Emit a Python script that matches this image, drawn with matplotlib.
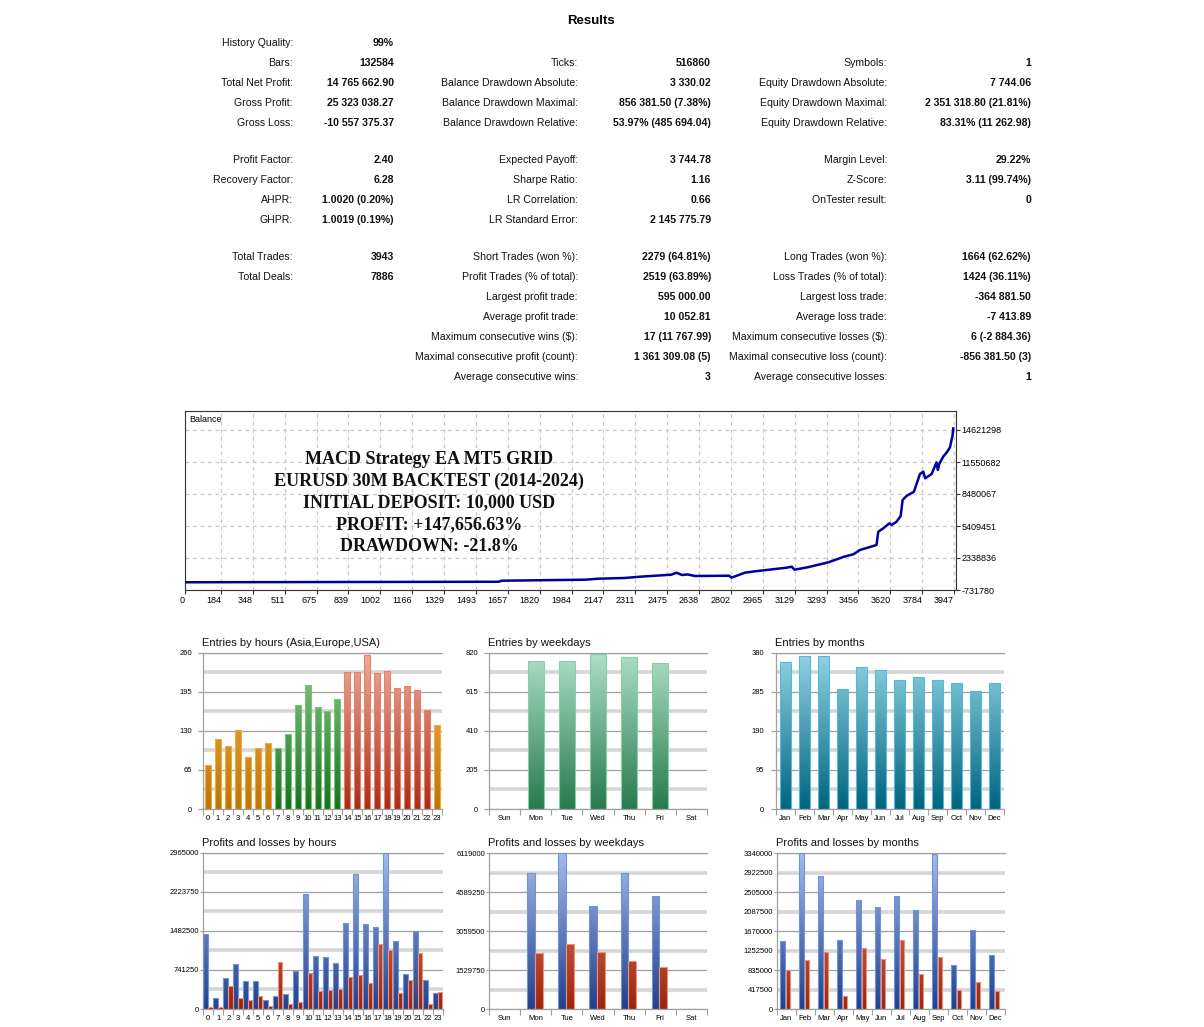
import numpy as np
import matplotlib.pyplot as plt
from matplotlib.colors import LinearSegmentedColormap

plt.rcParams['font.family'] = ['Liberation Sans', 'DejaVu Sans']

# ---------------- data ----------------
stats_blocks = [
    [
        [("History Quality:", "99%"), None, None],
        [("Bars:", "132584"), ("Ticks:", "516860"), ("Symbols:", "1")],
        [("Total Net Profit:", "14 765 662.90"), ("Balance Drawdown Absolute:", "3 330.02"),
         ("Equity Drawdown Absolute:", "7 744.06")],
        [("Gross Profit:", "25 323 038.27"), ("Balance Drawdown Maximal:", "856 381.50 (7.38%)"),
         ("Equity Drawdown Maximal:", "2 351 318.80 (21.81%)")],
        [("Gross Loss:", "-10 557 375.37"), ("Balance Drawdown Relative:", "53.97% (485 694.04)"),
         ("Equity Drawdown Relative:", "83.31% (11 262.98)")],
    ],
    [
        [("Profit Factor:", "2.40"), ("Expected Payoff:", "3 744.78"), ("Margin Level:", "29.22%")],
        [("Recovery Factor:", "6.28"), ("Sharpe Ratio:", "1.16"), ("Z-Score:", "3.11 (99.74%)")],
        [("AHPR:", "1.0020 (0.20%)"), ("LR Correlation:", "0.66"), ("OnTester result:", "0")],
        [("GHPR:", "1.0019 (0.19%)"), ("LR Standard Error:", "2 145 775.79"), None],
    ],
    [
        [("Total Trades:", "3943"), ("Short Trades (won %):", "2279 (64.81%)"),
         ("Long Trades (won %):", "1664 (62.62%)")],
        [("Total Deals:", "7886"), ("Profit Trades (% of total):", "2519 (63.89%)"),
         ("Loss Trades (% of total):", "1424 (36.11%)")],
        [None, ("Largest profit trade:", "595 000.00"), ("Largest loss trade:", "-364 881.50")],
        [None, ("Average profit trade:", "10 052.81"), ("Average loss trade:", "-7 413.89")],
        [None, ("Maximum consecutive wins ($):", "17 (11 767.99)"),
         ("Maximum consecutive losses ($):", "6 (-2 884.36)")],
        [None, ("Maximal consecutive profit (count):", "1 361 309.08 (5)"),
         ("Maximal consecutive loss (count):", "-856 381.50 (3)")],
        [None, ("Average consecutive wins:", "3"), ("Average consecutive losses:", "1")],
    ],
]

balance_trades = [0, 1610, 1625, 2055, 2121, 2255, 2336, 2496, 2523, 2550, 2580, 2617, 2792, 2805,
                  2873, 2926, 3087, 3114, 3128, 3195, 3302, 3383, 3430, 3464, 3549, 3558, 3584,
                  3615, 3627, 3652, 3673, 3683, 3703, 3741, 3751, 3772, 3789, 3799, 3832, 3857,
                  3864, 3871, 3891, 3912, 3926, 3936, 3939, 3941, 3943]
balance_values = [10000, 60000, 160000, 257000, 353000, 420000, 545000, 737000, 929000, 708000,
                  760000, 612000, 640000, 450000, 929000, 1062000, 1408000, 1504000, 1216000,
                  1446000, 1926000, 2463000, 2693000, 3107000, 3587000, 4863000, 5189000,
                  5669000, 5506000, 5826000, 6369000, 7904000, 8288000, 8700000, 9248000,
                  10399000, 10623000, 9986000, 10399000, 11522000, 10783000, 11359000,
                  12057000, 12538000, 12960000, 13825000, 14046000, 14460000, 14775663]
balance_xticks = [0, 184, 348, 511, 675, 839, 1002, 1166, 1329, 1493, 1657, 1820, 1984, 2147,
                  2311, 2475, 2638, 2802, 2965, 3129, 3293, 3456, 3620, 3784, 3947]
balance_yticks = [-731780, 2338836, 5409451, 8480067, 11550682, 14621298]
balance_note = ("MACD Strategy EA MT5 GRID\nEURUSD 30M BACKTEST (2014-2024)\n"
                "INITIAL DEPOSIT: 10,000 USD\nPROFIT: +147,656.63%\nDRAWDOWN: -21.8%")

hours = [str(h) for h in range(24)]
weekdays = ["Sun", "Mon", "Tue", "Wed", "Thu", "Fri", "Sat"]
months = ["Jan", "Feb", "Mar", "Apr", "May", "Jun", "Jul", "Aug", "Sep", "Oct", "Nov", "Dec"]

hour_session = ["asia"] * 7 + ["europe"] * 7 + ["usa"] * 9 + ["asia"]
entries_hours = [74, 117, 104, 132, 86, 101, 109, 101, 125, 173, 206, 170, 163, 183,
                 228, 228, 256, 226, 229, 202, 205, 198, 165, 140]
entries_weekdays = [0, 778, 774, 813, 795, 767, 0]
entries_months = [357, 371, 373, 292, 345, 339, 313, 321, 313, 307, 286, 306]

profit_hours = [1416000, 209000, 588000, 847000, 537000, 537000, 164000, 253000, 278000, 721000,
                2175000, 1005000, 980000, 866000, 1625000, 2560000, 1618000, 1562000, 2965000,
                1283000, 664000, 1473000, 556000, 297000]
loss_hours = [32000, 32000, 430000, 202000, 177000, 247000, 51000, 885000, 95000, 133000,
              677000, 341000, 354000, 379000, 607000, 645000, 487000, 1227000, 1119000,
              297000, 544000, 1056000, 95000, 316000]
profit_weekdays = [0, 5359000, 6119000, 4049000, 5359000, 4442000, 0]
loss_weekdays = [0, 2188000, 2542000, 2254000, 1887000, 1664000, 0]
profit_months = [1466000, 3340000, 2846000, 1473000, 2332000, 2196000, 2432000, 2117000,
                 3326000, 944000, 1695000, 1152000]
loss_months = [837000, 1044000, 1223000, 279000, 1302000, 1066000, 1473000, 751000,
               1109000, 415000, 572000, 393000]

# ---------------- styles ----------------
W, H = 1204, 1027
session_colors = {"asia": ("#F6BA5C", "#BE7405", "#F2AA3A"),
                  "europe": ("#92CE92", "#16721A", "#7CC47C"),
                  "usa": ("#F0AE9E", "#A82C16", "#E8806A")}
green = ("#AEE0C6", "#287A4E", "#82D2A8")
teal = ("#92D4E4", "#00647E", "#52BADA")
blue = ("#A3BCEC", "#213F8C", "#7093DA")
red = ("#EC8A70", "#98260C", "#F0907A")
tick_font = ['Liberation Sans Narrow', 'Liberation Sans', 'DejaVu Sans']

fig = plt.figure(figsize=(W / 100, H / 100), dpi=100)


def px_axes(l, t, r, b):
    return fig.add_axes([l / W, 1 - b / H, (r - l) / W, (b - t) / H])


# ---------------- results table ----------------
fig.text(591 / W, 1 - 21 / H, "Results", ha='center', va='center', fontsize=9.5,
         fontweight='bold')
label_x = [293, 578, 887]
value_x = [394, 711, 1031]
for bi, block in enumerate(stats_blocks):
    for ri, row in enumerate(block):
        y = 43 + 17 * bi + 20 * sum(len(b) for b in stats_blocks[:bi]) + 20 * ri
        for ci, cell in enumerate(row):
            if cell is None:
                continue
            fig.text(label_x[ci] / W, 1 - y / H, cell[0], ha='right', va='center',
                     fontsize=7.6, color='#111111')
            fig.text(value_x[ci] / W, 1 - y / H, cell[1], ha='right', va='center',
                     fontsize=7.6, fontweight='bold', color='#111111')

# ---------------- balance chart ----------------
ax = px_axes(185, 411, 956, 590)
ax.plot(balance_trades, balance_values, color='#0000A0', lw=1.8, zorder=3)
ax.set_xlim(0, 3957)
ax.set_ylim(-731780, 16444476)
ax.set_xticks(balance_xticks)
ax.set_xticklabels([str(v) for v in balance_xticks], ha='right', fontsize=6.5)
ax.set_yticks(balance_yticks)
ax.set_yticklabels([str(v) for v in balance_yticks], fontsize=6.5)
ax.yaxis.tick_right()
ax.tick_params(axis='both', length=3, width=0.8, color='#333333', pad=1.0)
ax.grid(True, color='#C8C8C8', lw=0.9, linestyle=(0, (3, 3)))
for s in ax.spines.values():
    s.set_color('#333333')
    s.set_linewidth(0.8)
ax.text(0.005, 0.975, "Balance", transform=ax.transAxes, fontsize=6.5, va='top', ha='left')
ax.text(0.317, 0.486, balance_note, transform=ax.transAxes, ha='center', va='center',
        multialignment='center', fontsize=13, fontweight='bold',
        family=['Liberation Serif', 'DejaVu Serif'], linespacing=1.34, color='#111111')

# ---------------- bar panels ----------------
grad = np.linspace(0, 1, 256).reshape(-1, 1)


def gradient_bars(ax, xs, heights, width, styles, ymax):
    for x, h, (top, bot, edge) in zip(xs, heights, styles):
        if h <= 0:
            continue
        b = ax.bar(x, h, width, color='none', edgecolor=edge, linewidth=0.8, zorder=3)[0]
        cmap = LinearSegmentedColormap.from_list('g', [bot, top])
        im = ax.imshow(grad, extent=[b.get_x(), b.get_x() + b.get_width(), 0, ymax],
                       origin='lower', cmap=cmap, aspect='auto', zorder=2)
        im.set_clip_path(b)


def panel(box, title, cats, ymax, tick_len, tick_pad, label_minor=False):
    ax = px_axes(*box)
    n = len(cats)
    major = np.linspace(0, ymax, 5)
    minor = (major[:-1] + major[1:]) / 2
    ax.set_yticks(major)
    ax.set_yticklabels([f'{v:.0f}' for v in major], fontsize=5.5, family=tick_font)
    ax.set_yticks(minor, minor=True)
    if label_minor:
        ax.set_yticklabels([f'{v:.0f}' for v in minor], minor=True, fontsize=5.5,
                           family=tick_font)
    ax.tick_params(axis='y', which='major', length=tick_len, width=0.9, color='#A0A0A0',
                   pad=tick_pad)
    ax.tick_params(axis='y', which='minor', length=0, pad=tick_pad + tick_len * 0.72)
    ax.yaxis.grid(True, which='major', color='#A0A0A0', lw=0.9)
    ax.yaxis.grid(True, which='minor', color='#D6D6D6', lw=2.6)
    ax.set_axisbelow(True)
    ax.set_xticks(np.arange(n))
    ax.set_xticklabels(cats, fontsize=5.5, family=tick_font)
    ax.tick_params(axis='x', which='major', length=0, pad=4)
    ax.set_xticks(np.arange(n + 1) - 0.5, minor=True)
    ax.tick_params(axis='x', which='minor', length=4, width=0.8, color='#A0A0A0')
    for k in ('left', 'top', 'bottom'):
        ax.spines[k].set_color('#A0A0A0')
        ax.spines[k].set_linewidth(0.9)
    ax.spines['right'].set_visible(False)
    fig.text((box[0] - 1) / W, 1 - (box[1] - 10) / H, title, ha='left', va='center',
             fontsize=8, color='#111111')
    return ax


def finish(ax, n, ymax):
    ax.set_xlim(-0.5, n - 0.5)
    ax.set_ylim(0, ymax)


# entries by hours
ax = panel((203, 652.7, 442, 809), "Entries by hours (Asia,Europe,USA)", hours, 260, 3.6, 4.3)
gradient_bars(ax, np.arange(24), entries_hours, 0.6,
              [session_colors[s] for s in hour_session], 260)
finish(ax, 24, 260)

# entries by weekdays
ax = panel((489.3, 652.7, 706.7, 809), "Entries by weekdays", weekdays, 820, 3.6, 4.3)
gradient_bars(ax, np.arange(7), entries_weekdays, 0.5, [green] * 7, 820)
finish(ax, 7, 820)

# entries by months
ax = panel((776, 652.7, 1004, 809), "Entries by months", months, 380, 3.6, 5.0)
gradient_bars(ax, np.arange(12), entries_months, 0.54, [teal] * 12, 380)
finish(ax, 12, 380)

# profits and losses by hours
ax = panel((203.3, 852.7, 443, 1009), "Profits and losses by hours", hours, 2965000, 2.2, 0.8)
gradient_bars(ax, np.arange(24) - 0.27, profit_hours, 0.45, [blue] * 24, 2965000)
gradient_bars(ax, np.arange(24) + 0.2, loss_hours, 0.45, [red] * 24, 2965000)
finish(ax, 24, 2965000)

# profits and losses by weekdays
ax = panel((489.3, 853.3, 706.7, 1009), "Profits and losses by weekdays", weekdays, 6119000,
           2.2, 0.8)
gradient_bars(ax, np.arange(7) - 0.15, profit_weekdays, 0.25, [blue] * 7, 6119000)
gradient_bars(ax, np.arange(7) + 0.1, loss_weekdays, 0.25, [red] * 7, 6119000)
finish(ax, 7, 6119000)

# profits and losses by months
ax = panel((776.7, 853.3, 1005, 1009), "Profits and losses by months", months, 3340000,
           2.2, 0.8, label_minor=True)
gradient_bars(ax, np.arange(12) - 0.2, profit_months, 0.23, [blue] * 12, 3340000)
gradient_bars(ax, np.arange(12) + 0.08, loss_months, 0.23, [red] * 12, 3340000)
finish(ax, 12, 3340000)

fig.savefig("out.png", dpi=100)
